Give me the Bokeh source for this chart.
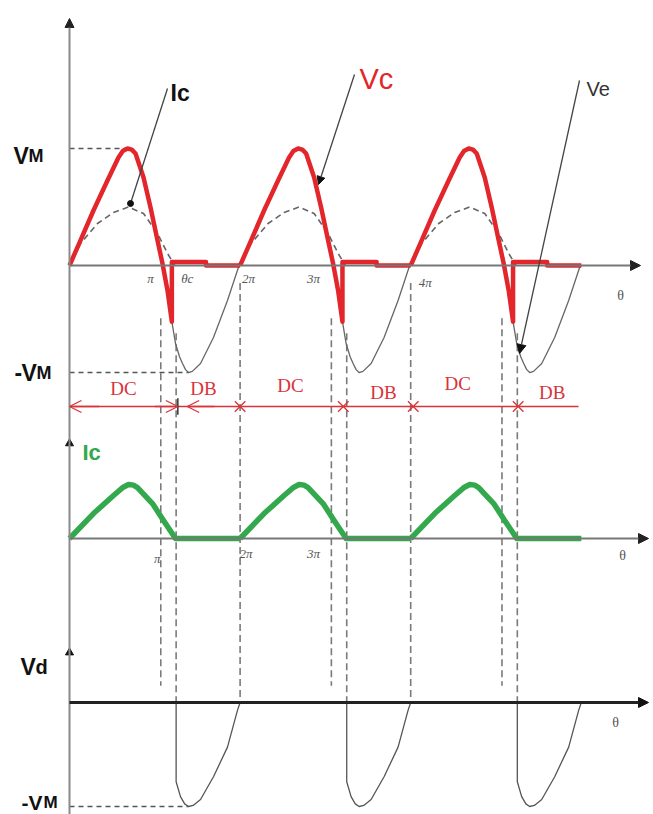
import numpy as np
from bokeh.plotting import figure
from bokeh.models import Range1d, Arrow, NormalHead, OpenHead
from bokeh.core.properties import value
from bokeh.embed import file_html
from bokeh.resources import INLINE

# ---------------- DATA (theta in units of pi, voltages/currents in units of VM) ----------------
cycle_starts = [0.0, 2.0, 4.0]

# supply voltage Ve over one cycle
ve_phase = [0.0, 0.129, 0.281, 0.445, 0.574, 0.625, 0.68, 0.73, 0.774, 0.868, 0.95, 1.032, 1.09,
            1.149, 1.2, 1.243, 1.29, 1.325, 1.36, 1.395, 1.44, 1.536, 1.688, 1.852, 1.98, 2.0]
ve_value = [0.0, 0.214, 0.47, 0.726, 0.923, 0.978, 1.0, 0.99, 0.957, 0.752, 0.496, 0.214, 0.017,
            -0.214, -0.48, -0.667, -0.78, -0.838, -0.89, -0.915, -0.905, -0.838, -0.615, -0.299, -0.017, 0.0]

# capacitor/load voltage Vc over one cycle (follows Ve, then clamps at theta_c)
vc_phase = [0.0, 0.129, 0.281, 0.445, 0.574, 0.625, 0.68, 0.73, 0.774, 0.868, 0.95, 1.032, 1.09,
            1.149, 1.2, 1.2, 1.6, 1.6, 2.0]
vc_value = [0.0, 0.214, 0.47, 0.726, 0.923, 0.978, 1.0, 0.99, 0.957, 0.752, 0.496, 0.214, 0.017,
            -0.214, -0.48, 0.03, 0.03, 0.0, 0.0]

# current Ic (dashed, top panel)
ic_top_phase = [0.0, 0.129, 0.328, 0.516, 0.692, 0.868, 1.032, 1.149, 1.235]
ic_top_value = [0.0, 0.188, 0.359, 0.453, 0.5, 0.444, 0.274, 0.103, 0.0]

# current Ic (green, middle panel)
ic_phase = [0.0, 0.281, 0.516, 0.63, 0.692, 0.75, 0.797, 0.973, 1.102, 1.243, 2.0]
ic_value = [0.0, 0.231, 0.398, 0.475, 0.5, 0.494, 0.472, 0.324, 0.167, 0.0, 0.0]

# diode voltage Vd (bottom panel) during the blocking part of a cycle
vd_phase = [1.25, 1.25, 1.301, 1.35, 1.395, 1.45, 1.536, 1.688, 1.852, 1.969, 2.0]
vd_value = [0.0, -0.762, -0.905, -0.975, -1.0, -0.99, -0.933, -0.714, -0.429, -0.076, 0.0]

# special angles (per cycle)
zero_cross_phase = 1.07
theta_c_phase = 1.25

# conduction intervals
interval_names = ["DC", "DB", "DC", "DB", "DC", "DB"]
interval_centers = [0.633, 1.571, 2.59, 3.68, 4.55, 5.66]
interval_label_lift = [1.051, 1.051, 1.026, 1.085, 1.009, 1.085]
interval_bounds = [2.0, 3.21, 4.03, 5.26]

top_ticks = ["π", "θc", "2π", "3π", "4π"]
top_tick_x = [0.95, 1.38, 2.10, 2.86, 4.17]
mid_ticks = ["π", "2π", "3π"]
mid_tick_x = [1.03, 2.07, 2.86]

# ---------------- LAYOUT ----------------
W, H, PAGE = 653, 814, 0
X0, PI_PX = 69.0, 85.3
Z_TOP, K_TOP = 265.0, 117.0
Z_MID, K_MID = 538.0, 108.0
Z_BOT, K_BOT = 702.0, 104.0


def rng(z, k):
    off = (PAGE + H) - z
    return Range1d(-off / k, (H - off) / k)


def tx(X):
    return (X - X0) / PI_PX


def ty(Y):
    return (Z_TOP - Y) / K_TOP


def bot_to_top(v):
    return (Z_TOP - (Z_BOT - K_BOT * v)) / K_TOP


p = figure(width=W, height=H,
           x_range=Range1d(tx(PAGE), tx(PAGE + W)),
           y_range=rng(Z_TOP, K_TOP),
           x_axis_type=None, y_axis_type=None,
           output_backend="svg", toolbar_location=None,
           min_border=0, outline_line_color=None,
           background_fill_color="white", border_fill_color="white")
p.extra_y_ranges = {"mid": rng(Z_MID, K_MID), "bot": rng(Z_BOT, K_BOT)}

RED = "#e2262b"
RED2 = "#d8343a"
GREEN = "#33a84c"
GRAY = "#666666"
DASH = "#7a7a7a"
SANS = value("Liberation Sans")
SERIF = value("Liberation Serif")


def tile(phase, vals):
    xs, ys = [], []
    for s in cycle_starts:
        xs.append([s + ph for ph in phase])
        ys.append(list(vals))
    return xs, ys

# ---------------- dashed vertical guide lines ----------------
vx0, vy0, vy1 = [], [], []
for s in cycle_starts:
    vx0 += [s + zero_cross_phase, s + theta_c_phase]
    vy0 += [-0.45, -0.58]
    vy1 += [bot_to_top(0.16), bot_to_top(0.0)]
for s in cycle_starts[1:]:
    vx0.append(s)
    vy0.append(-0.15)
    vy1.append(bot_to_top(0.0))
p.segment(x0=vx0, y0=vy0, x1=vx0, y1=vy1, line_color=DASH, line_width=1.6, line_dash="7 4")

# level guides VM / -VM
p.segment(x0=[0, 0], y0=[1.0, -0.915], x1=[0.68, 1.395], y1=[1.0, -0.915],
          line_color="#555555", line_width=1.5, line_dash="5 4")
p.segment(x0=[0], y0=[-1.0], x1=[1.395], y1=[-1.0], y_range_name="bot",
          line_color="#555555", line_width=1.5, line_dash="5 4")

# ---------------- axes ----------------
p.add_layout(Arrow(end=NormalHead(size=9, fill_color="#222222", line_color="#222222"),
                   x_start=0, y_start=p.y_range.start, x_end=0, y_end=ty(18),
                   line_color="#8a8a8a", line_width=2))
p.add_layout(Arrow(end=NormalHead(size=10, fill_color="#222222", line_color="#222222"),
                   x_start=0, y_start=0, x_end=tx(640), y_end=0,
                   line_color="#777777", line_width=2))
p.add_layout(Arrow(end=NormalHead(size=10, fill_color="#222222", line_color="#222222"),
                   x_start=0, y_start=0, x_end=tx(648), y_end=0, y_range_name="mid",
                   line_color="#777777", line_width=2))
p.add_layout(Arrow(end=NormalHead(size=10, fill_color="#111111", line_color="#111111"),
                   x_start=0, y_start=0, x_end=tx(648), y_end=0, y_range_name="bot",
                   line_color="#222222", line_width=3))
p.scatter(x=[0], y=[0.88], y_range_name="mid", marker="triangle", size=8, color="#111111")
p.scatter(x=[0], y=[0.48], y_range_name="bot", marker="triangle", size=8, color="#111111")

# ---------------- waveforms ----------------
xs, ys = tile(ve_phase, ve_value)
p.multi_line(xs=xs, ys=ys, line_color=GRAY, line_width=1.3, line_join="round")

xs, ys = tile(ic_top_phase, ic_top_value)
p.multi_line(xs=xs, ys=ys, line_color="#666666", line_width=1.6, line_dash="6 4")

xs, ys = tile(vc_phase, vc_value)
p.multi_line(xs=xs, ys=ys, line_color=RED, line_width=4.5, line_join="round")

xs, ys = tile(ic_phase, ic_value)
p.multi_line(xs=xs, ys=ys, y_range_name="mid", line_color=GREEN, line_width=5.5, line_join="round")

xs, ys = tile(vd_phase, vd_value)
p.multi_line(xs=xs, ys=ys, y_range_name="bot", line_color="#555555", line_width=1.3, line_join="round")

# ---------------- DC / DB interval row ----------------
ROW = ty(406)
p.segment(x0=[0], y0=[ROW], x1=[tx(578)], y1=[ROW], line_color=RED2, line_width=1.4)
for xs_, xe_ in [(0.35, 0.0), (1.0, 1.27), (1.7, 1.38)]:
    p.add_layout(Arrow(end=OpenHead(size=12, line_color=RED2, line_width=1.3),
                       x_start=xs_, y_start=ROW, x_end=xe_, y_end=ROW,
                       line_color=RED2, line_width=1.4))
p.segment(x0=[1.27], y0=[ROW - 0.07], x1=[1.27], y1=[ROW + 0.07], line_color="#333333", line_width=1.5)
p.scatter(x=interval_bounds, y=[ROW] * len(interval_bounds), marker="x", size=15,
          line_color=RED2, line_width=1.3)
p.text(x=interval_centers, y=[-v for v in interval_label_lift], text=interval_names,
       text_align="center", text_baseline="middle", text_color=RED2,
       text_font=SERIF, text_font_size=value("19px"))

# ---------------- tick labels ----------------
p.text(x=top_tick_x, y=[-0.11, -0.11, -0.11, -0.11, -0.145], text=top_ticks,
       text_align="center", text_baseline="middle", text_color="#555555",
       text_font=SERIF, text_font_size=value("13px"), text_font_style="italic")
p.text(x=mid_tick_x, y=[-0.185, -0.139, -0.139], text=mid_ticks, y_range_name="mid",
       text_align="center", text_baseline="middle", text_color="#555555",
       text_font=SERIF, text_font_size=value("13px"), text_font_style="italic")
p.text(x=[tx(620)], y=[ty(295)], text=["θ"], text_align="center", text_baseline="middle",
       text_color="#555555", text_font=SERIF, text_font_size=value("14px"))
p.text(x=[tx(622)], y=[(Z_MID - 555) / K_MID], text=["θ"], y_range_name="mid",
       text_align="center", text_baseline="middle",
       text_color="#555555", text_font=SERIF, text_font_size=value("14px"))
p.text(x=[tx(615)], y=[(Z_BOT - 722) / K_BOT], text=["θ"], y_range_name="bot",
       text_align="center", text_baseline="middle",
       text_color="#555555", text_font=SERIF, text_font_size=value("14px"))

# ---------------- axis level labels ----------------
def vm_label(X, minus, y, yr="default", big="23px", small="18px"):
    kw = {} if yr == "default" else {"y_range_name": yr}
    off = 0
    if minus:
        p.text(x=[tx(X)], y=[y], text=["-"], text_baseline="alphabetic", text_align="left",
               text_font=SANS, text_font_size=value(big), text_font_style="bold",
               text_color="#111111", **kw)
        off = 7
    p.text(x=[tx(X)], y=[y], text=["V"], x_offset=off, text_baseline="alphabetic", text_align="left",
           text_font=SANS, text_font_size=value(big), text_font_style="bold",
           text_color="#111111", **kw)
    p.text(x=[tx(X)], y=[y], text=["M"], x_offset=off + 15, text_baseline="alphabetic", text_align="left",
           text_font=SANS, text_font_size=value(small), text_font_style="bold",
           text_color="#111111", **kw)

vm_label(13, False, ty(155))
vm_label(14, True, ty(372))
vm_label(21, True, (Z_BOT - 802) / K_BOT, yr="bot", big="21px", small="17px")

p.text(x=[tx(20)], y=[(Z_BOT - 666) / K_BOT], text=["V"], y_range_name="bot",
       text_baseline="alphabetic", text_align="left", text_font=SANS,
       text_font_size=value("23px"), text_font_style="bold", text_color="#111111")
p.text(x=[tx(20)], y=[(Z_BOT - 666) / K_BOT], text=["d"], x_offset=15, y_range_name="bot",
       text_baseline="alphabetic", text_align="left", text_font=SANS,
       text_font_size=value("20px"), text_font_style="bold", text_color="#111111")

p.text(x=[tx(82)], y=[(Z_MID - 452) / K_MID], text=["Ic"], y_range_name="mid",
       text_baseline="alphabetic", text_align="left", text_font=SANS,
       text_font_size=value("22px"), text_font_style="bold", text_color=GREEN)

# ---------------- curve call-outs ----------------
p.segment(x0=[tx(167)], y0=[ty(88)], x1=[tx(130)], y1=[ty(203)], line_color="#444444", line_width=1.3)
p.scatter(x=[tx(130)], y=[ty(203)], size=6, color="#111111")
p.text(x=[tx(170)], y=[ty(92)], text=["Ic"], text_baseline="alphabetic", text_align="left",
       text_font=SANS, text_font_size=value("23px"), text_font_style="bold", text_color="#111111")

p.add_layout(Arrow(end=NormalHead(size=8, fill_color="#111111", line_color="#111111"),
                   x_start=tx(354), y_start=ty(74), x_end=tx(318), y_end=ty(184),
                   line_color="#444444", line_width=1.3))
p.text(x=[tx(359)], y=[ty(78)], text=["Vc"], text_baseline="alphabetic", text_align="left",
       text_font=SANS, text_font_size=value("29px"), text_color=RED)

p.add_layout(Arrow(end=NormalHead(size=9, fill_color="#111111", line_color="#111111"),
                   x_start=tx(579), y_start=ty(80), x_end=tx(519), y_end=ty(353),
                   line_color="#444444", line_width=1.3))
p.text(x=[tx(586)], y=[ty(88)], text=["Ve"], text_baseline="alphabetic", text_align="left",
       text_font=SANS, text_font_size=value("20px"), text_color="#333333")

open("out.html", "w").write(file_html(p, INLINE))
